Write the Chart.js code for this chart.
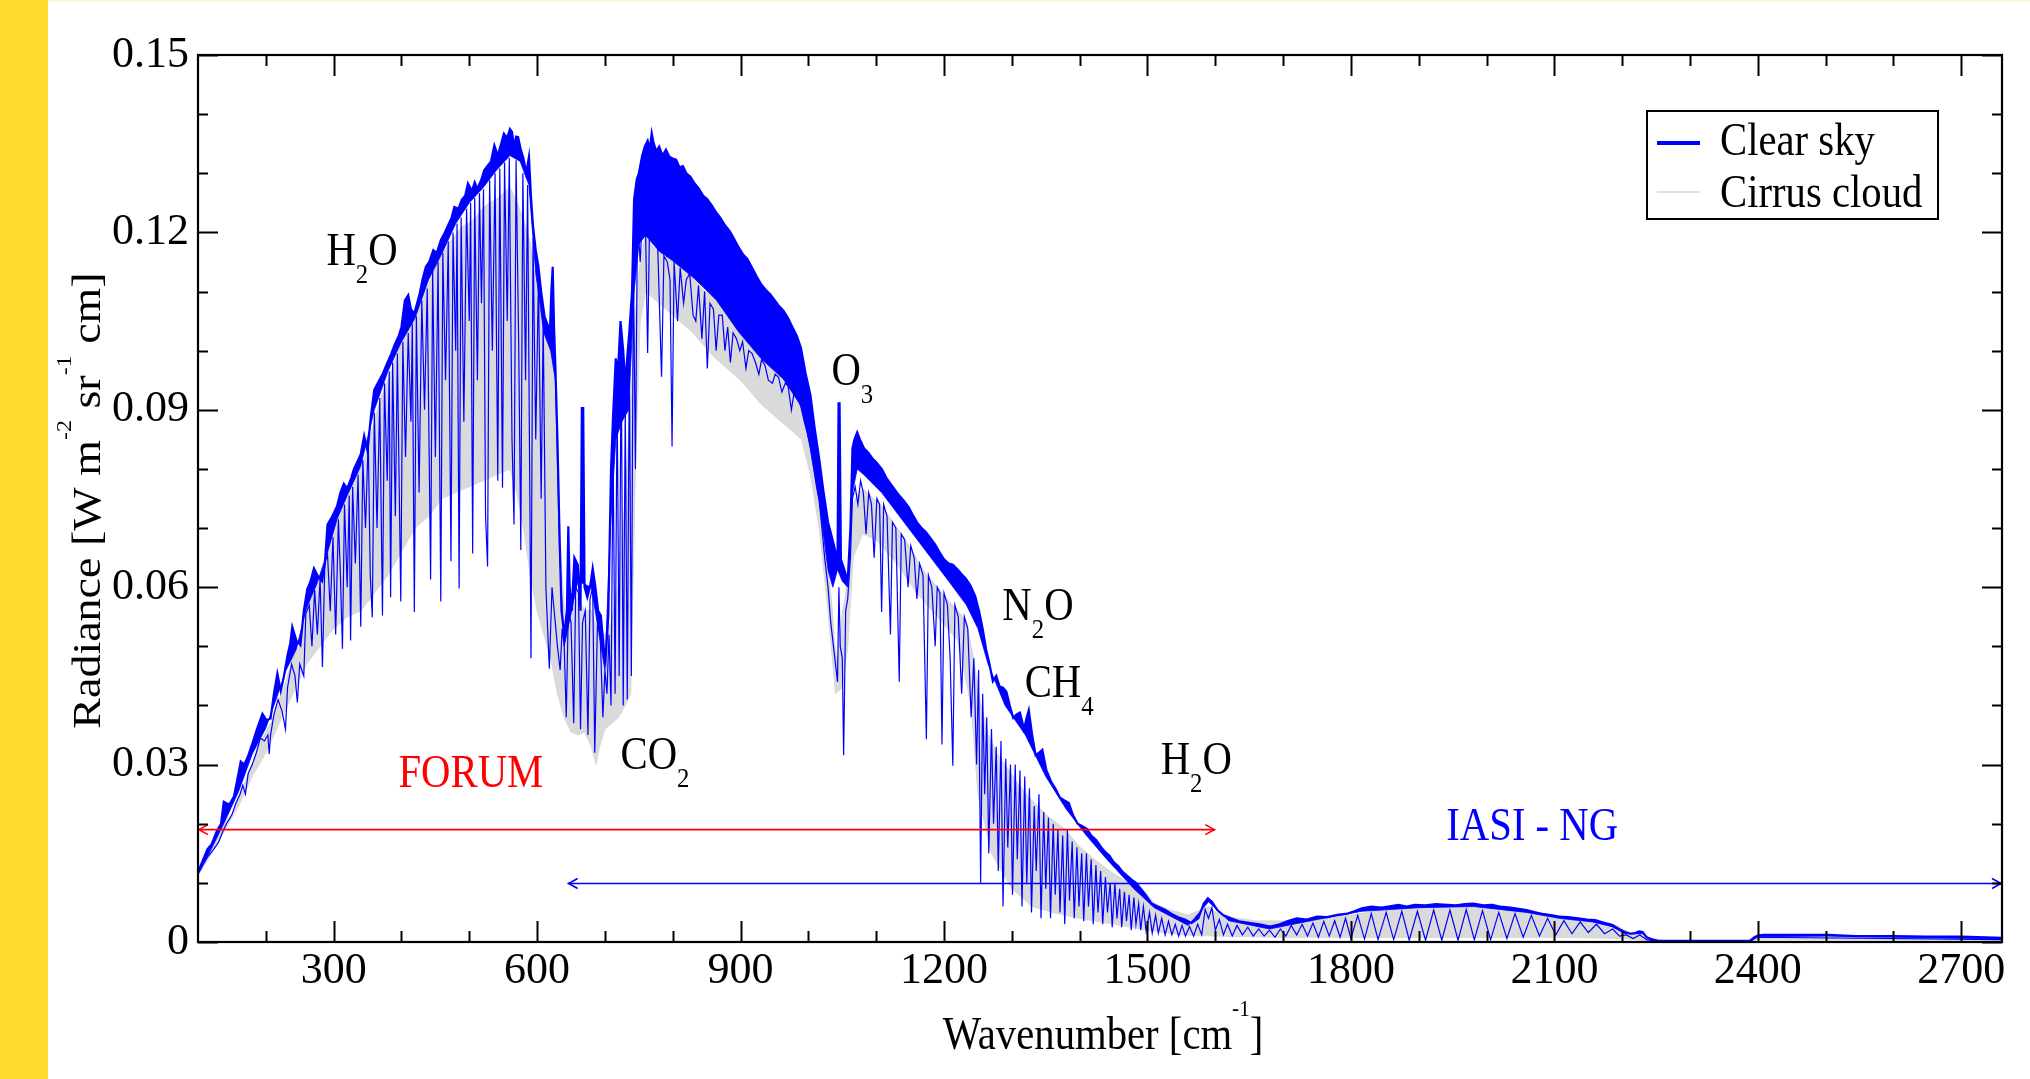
<!DOCTYPE html>
<html><head><meta charset="utf-8">
<script src="https://cdn.jsdelivr.net/npm/chart.js@4.4.1/dist/chart.umd.min.js"></script>
<style>
html,body{margin:0;padding:0;background:#fff;}
#wrap{position:relative;width:2030px;height:1079px;overflow:hidden;background:#fff;}
#strip{position:absolute;left:0;top:0;width:48px;height:1079px;background:#FFDB2F;}
#topline{position:absolute;left:48px;top:0;right:0;height:2px;background:#FFF7D8;}
canvas{position:absolute;left:0;top:0;}
</style></head><body>
<div id="wrap"><div id="strip"></div><div id="topline"></div><canvas id="c" width="2030" height="1079"></canvas></div>
<script>
// ---------------- DATA (wavenumber cm^-1, radiance W m^-2 sr^-1 cm) ----------------
const xTickValues = [300, 600, 900, 1200, 1500, 1800, 2100, 2400, 2700];
const xTickLabels = ['300', '600', '900', '1200', '1500', '1800', '2100', '2400', '2700'];
const xMinorTickValues = [200, 400, 500, 700, 800, 1000, 1100, 1300, 1400, 1600, 1700, 1900, 2000, 2200, 2300, 2500, 2600];
const yTickValues = [0, 0.03, 0.06, 0.09, 0.12, 0.15];
const yTickLabels = ['0', '0.03', '0.06', '0.09', '0.12', '0.15'];
const yMinorTickValues = [0.01, 0.02, 0.04, 0.05, 0.07, 0.08, 0.10, 0.11, 0.13, 0.14];

const seriesNames = ['Clear sky', 'Cirrus cloud'];

// Clear sky: upper envelope of the spectrum
const clearSkyTop = [[100,0.0118],[106,0.0135],[114,0.0157],[120,0.0165],[128,0.0188],[134,0.0200],[138,0.0237],[146,0.0232],[153,0.0246],[158,0.0275],[163,0.0305],[168,0.0300],[173,0.0312],[180,0.0335],[187,0.0360],[195,0.0386],[201,0.0375],[207,0.0378],[212,0.0420],[217,0.0454],[222,0.0425],[226,0.0445],[232,0.0485],[236,0.0505],[239,0.0533],[245,0.0510],[251,0.0502],[256,0.0560],[261,0.0596],[266,0.0610],[271,0.0632],[277,0.0618],[283,0.0610],[287,0.0640],[291,0.0706],[298,0.0720],[305,0.0737],[310,0.0760],[315,0.0775],[320,0.0767],[326,0.0785],[330,0.0800],[335,0.0812],[340,0.0825],[345,0.0856],[350,0.0830],[355,0.0890],[360,0.0934],[365,0.0945],[372,0.0960],[379,0.0979],[385,0.0995],[390,0.1010],[396,0.1025],[400,0.1040],[405,0.1085],[410,0.1094],[414,0.1070],[419,0.1063],[423,0.1080],[427,0.1097],[431,0.1120],[436,0.1142],[441,0.1150],[447,0.1170],[452,0.1165],[458,0.1187],[464,0.1200],[470,0.1215],[474,0.1225],[478,0.1243],[484,0.1240],[489,0.1255],[494,0.1262],[498,0.1283],[504,0.1270],[508,0.1285],[512,0.1274],[518,0.1290],[522,0.1305],[526,0.1311],[532,0.1320],[537,0.1347],[542,0.1330],[547,0.1350],[551,0.1367],[556,0.1360],[560,0.1375],[563,0.1370],[566,0.1345],[569,0.1362],[572,0.1361],[576,0.1340],[580,0.1325],[584,0.1300],[588,0.1328],[591,0.1260],[594,0.1210],[598,0.1170],[602,0.1142],[606,0.1100],[611,0.1058],[615,0.1045],[619,0.1035],[621,0.1100],[623,0.1142],[625,0.1040],[627,0.0973],[630,0.0850],[633,0.0692],[636,0.0560],[640,0.0520],[644,0.0560],[646,0.0703],[648,0.0600],[651,0.0560],[655,0.0650],[660,0.0638],[664,0.0560],[666,0.0903],[668,0.0903],[670,0.0600],[674,0.0583],[678,0.0600],[682,0.0632],[686,0.0600],[690,0.0560],[694,0.0552],[698,0.0500],[701,0.0478],[705,0.0552],[709,0.0800],[712,0.0889],[716,0.0987],[719,0.0960],[723,0.1050],[727,0.1000],[730,0.0943],[733,0.0990],[736,0.1032],[740,0.1100],[743,0.1256],[747,0.1290],[750,0.1300],[755,0.1330],[759,0.1346],[763,0.1355],[766,0.1340],[769,0.1368],[772,0.1350],[776,0.1337],[780,0.1345],[785,0.1330],[790,0.1340],[795,0.1328],[800,0.1325],[805,0.1323],[810,0.1310],[815,0.1312],[820,0.1300],[826,0.1294],[832,0.1283],[838,0.1275],[845,0.1262],[851,0.1256],[858,0.1245],[864,0.1234],[870,0.1225],[877,0.1212],[884,0.1202],[890,0.1190],[897,0.1175],[904,0.1162],[910,0.1155],[917,0.1140],[924,0.1125],[930,0.1113],[937,0.1103],[944,0.1095],[950,0.1086],[957,0.1075],[963,0.1068],[970,0.1055],[976,0.1041],[983,0.1025],[989,0.1005],[996,0.0961],[1003,0.0925],[1009,0.0871],[1016,0.0817],[1022,0.0764],[1029,0.0710],[1035,0.0683],[1040,0.0660],[1043,0.0647],[1044.5,0.0911],[1046,0.0911],[1048,0.0647],[1053,0.0630],[1058,0.0611],[1062,0.0700],[1065,0.0835],[1068,0.0850],[1072,0.0862],[1076,0.0850],[1082,0.0835],[1088,0.0828],[1095,0.0817],[1101,0.0810],[1108,0.0800],[1115,0.0785],[1121,0.0775],[1128,0.0764],[1134,0.0755],[1141,0.0746],[1148,0.0735],[1154,0.0722],[1160,0.0710],[1167,0.0700],[1174,0.0692],[1180,0.0683],[1187,0.0672],[1193,0.0660],[1200,0.0647],[1207,0.0640],[1213,0.0638],[1220,0.0630],[1226,0.0622],[1232,0.0615],[1239,0.0603],[1246,0.0585],[1252,0.0558],[1257,0.0530],[1262,0.0495],[1267,0.0470],[1272,0.0441],[1277,0.0450],[1282,0.0432],[1287,0.0430],[1292,0.0423],[1297,0.0400],[1302,0.0379],[1307,0.0385],[1312,0.0388],[1318,0.0360],[1322,0.0380],[1325,0.0392],[1330,0.0350],[1335,0.0316],[1340,0.0320],[1345,0.0325],[1351,0.0290],[1358,0.0271],[1364,0.0260],[1371,0.0244],[1377,0.0240],[1384,0.0235],[1390,0.0215],[1397,0.0200],[1404,0.0196],[1411,0.0191],[1417,0.0180],[1424,0.0173],[1432,0.0160],[1438,0.0152],[1444,0.0146],[1450,0.0135],[1457,0.0128],[1463,0.0119],[1470,0.0112],[1477,0.0105],[1483,0.0100],[1490,0.0090],[1497,0.0080],[1506,0.0065],[1515,0.0060],[1525,0.0055],[1535,0.0048],[1545,0.0042],[1555,0.0038],[1565,0.0032],[1575,0.0040],[1583,0.0065],[1589,0.0074],[1595,0.0068],[1603,0.0054],[1612,0.0045],[1623,0.0040],[1635,0.0035],[1652,0.0032],[1665,0.0030],[1681,0.0026],[1695,0.0030],[1708,0.0036],[1720,0.0040],[1735,0.0038],[1750,0.0043],[1765,0.0042],[1780,0.0046],[1795,0.0048],[1805,0.0052],[1816,0.0057],[1830,0.0060],[1845,0.0058],[1855,0.0060],[1870,0.0063],[1882,0.0060],[1894,0.0063],[1910,0.0062],[1925,0.0064],[1942,0.0063],[1955,0.0062],[1968,0.0064],[1981,0.0065],[1995,0.0062],[2008,0.0063],[2020,0.0060],[2035,0.0058],[2047,0.0056],[2059,0.0054],[2072,0.0050],[2085,0.0047],[2097,0.0045],[2107,0.0043],[2120,0.0042],[2135,0.0040],[2148,0.0038],[2160,0.0037],[2172,0.0033],[2185,0.0029],[2195,0.0022],[2204,0.0017],[2212,0.0014],[2219,0.0015],[2225,0.0018],[2230,0.0017],[2236,0.0008],[2243,0.0005],[2253,0.0002],[2300,0.0002],[2350,0.0002],[2388,0.0002],[2395,0.0008],[2400,0.0011],[2408,0.0012],[2450,0.0012],[2504,0.0012],[2543,0.0010],[2600,0.0010],[2650,0.0009],[2700,0.0009],[2760,0.0007]];

// Clear sky: lower edge of the dense (unresolved) line band under the envelope
const clearSkyBandBottom = [[100,0.0114],[120,0.0158],[140,0.0205],[160,0.0255],[180,0.0318],[200,0.0362],[215,0.0410],[230,0.0460],[245,0.0495],[260,0.0565],[275,0.0605],[290,0.0655],[305,0.0715],[320,0.0755],[340,0.0805],[360,0.0900],[380,0.0965],[400,0.1015],[420,0.1055],[440,0.1120],[460,0.1165],[480,0.1215],[500,0.1250],[520,0.1275],[540,0.1305],[560,0.1330],[575,0.1320],[588,0.1280],[598,0.1130],[610,0.1030],[620,0.1000],[627,0.0950],[633,0.0660],[640,0.0500],[660,0.0610],[680,0.0600],[700,0.0460],[708,0.0700],[716,0.0850],[725,0.0880],[735,0.0900],[743,0.1100],[750,0.1180],[760,0.1195],[780,0.1168],[800,0.1152],[832,0.1122],[864,0.1086],[897,0.1032],[930,0.0987],[963,0.0952],[989,0.0907],[1003,0.0835],[1016,0.0746],[1029,0.0629],[1036,0.0600],[1043,0.0630],[1050,0.0610],[1058,0.0600],[1065,0.0760],[1072,0.0800],[1082,0.0790],[1108,0.0760],[1141,0.0710],[1174,0.0660],[1207,0.0610],[1233,0.0570],[1250,0.0530],[1265,0.0470],[1290,0.0400],[1320,0.0350],[1350,0.0280],[1380,0.0225],[1410,0.0180],[1440,0.0140],[1480,0.0090],[1510,0.0058],[1560,0.0028],[1590,0.0068],[1620,0.0036],[1680,0.0022],[1750,0.0038],[1816,0.0052],[1900,0.0058],[1981,0.0060],[2059,0.0050],[2107,0.0040],[2156,0.0034],[2185,0.0026],[2204,0.0014],[2230,0.0014],[2243,0.0003],[2253,0.0001],[2388,0.0001],[2400,0.0009],[2504,0.0010],[2760,0.0005]];

// Clear sky: resolved absorption lines (line minima and maxima)
const clearSkyLines = [[100,0.0115],[108,0.0132],[115,0.0145],[122,0.0155],[130,0.0168],[136,0.0185],[142,0.0200],[150,0.0215],[156,0.0235],[162,0.0250],[166,0.0265],[170,0.0250],[174,0.0285],[180,0.0300],[186,0.0320],[192,0.0345],[198,0.0340],[203,0.0350],[205,0.0318],[207,0.0350],[212,0.0385],[218,0.0410],[224,0.0390],[229,0.0360],[232,0.0430],[238,0.0470],[243,0.0450],[246.5,0.0405],[250,0.0470],[256,0.0450],[259,0.0555],[264,0.0570],[268,0.0500],[272,0.0595],[276,0.0520],[280,0.0615],[283.5,0.0465],[287,0.0640],[291,0.0655],[295,0.0560],[299,0.0685],[303,0.0520],[307,0.0715],[310,0.0620],[313,0.0496],[316,0.0740],[320,0.0600],[323,0.0755],[325,0.0510],[328,0.0770],[332,0.0640],[336,0.0790],[340,0.0533],[343,0.0815],[347,0.0700],[351,0.0850],[354,0.0620],[357,0.0549],[360,0.0895],[364,0.0700],[368,0.0920],[372,0.0552],[375,0.0945],[379,0.0780],[382,0.0965],[384,0.0583],[387,0.0980],[391,0.0720],[394,0.0995],[399,0.0576],[402,0.1015],[406,0.0820],[410,0.1030],[414,0.0880],[416,0.1045],[419,0.0558],[422,0.1058],[426,0.0760],[430,0.1085],[434,0.0900],[438,0.1105],[443,0.0613],[446,0.1135],[450,0.0820],[454,0.1150],[458,0.0576],[461,0.1165],[465,0.0950],[469,0.1185],[473,0.0644],[476,0.1200],[480,0.1000],[482,0.1215],[485,0.0598],[488,0.1225],[492,0.0880],[496,0.1240],[500,0.1050],[502,0.1250],[505,0.0657],[508,0.1258],[512,0.0950],[515,0.1266],[518,0.1080],[521,0.1273],[524,0.0720],[527,0.0635],[530,0.1288],[534,0.1000],[538,0.1300],[542,0.0780],[545,0.1308],[549,0.0768],[552,0.1318],[556,0.1050],[559,0.1326],[563,0.0850],[566,0.0706],[569,0.1322],[573,0.1000],[576,0.0663],[579,0.1300],[583,0.0950],[586,0.1280],[591,0.0480],[594,0.1190],[598,0.0850],[602,0.1120],[606,0.0750],[609,0.1050],[613,0.0600],[618,0.0462],[622,0.0600],[626,0.0550],[630,0.0500],[634,0.0460],[637,0.0530],[640,0.0500],[643,0.0380],[646,0.0560],[650,0.0540],[654,0.0370],[657,0.0600],[661,0.0590],[664,0.0360],[667,0.0540],[671,0.0560],[675,0.0350],[678,0.0580],[682,0.0600],[685,0.0320],[689,0.0540],[693,0.0520],[697,0.0380],[700,0.0460],[703,0.0420],[706,0.0520],[709,0.0400],[712,0.0840],[715,0.0420],[718,0.0920],[721,0.0450],[724,0.1000],[727,0.0400],[730,0.0900],[733,0.0410],[736,0.0980],[739,0.0450],[742,0.1150],[745,0.0800],[748,0.1230],[752,0.1150],[756,0.1250],[760,0.1200],[763,0.0996],[766,0.1230],[770,0.1200],[774,0.1220],[778,0.1170],[783.5,0.0956],[787,0.1160],[792,0.1150],[796,0.1120],[799,0.0838],[802,0.1150],[807,0.1050],[811,0.1140],[816,0.1080],[820,0.1120],[825,0.1130],[830,0.1060],[834,0.1050],[838,0.1110],[843,0.1020],[847,0.1100],[851,0.0970],[855,0.1080],[860,0.1070],[864,0.1000],[868,0.1060],[873,0.1060],[877,0.1000],[881,0.1040],[885,0.0980],[889,0.1030],[894,0.1020],[899,0.1000],[903,0.1015],[908,0.0970],[912,0.1000],[917,0.0995],[922,0.0980],[927,0.0960],[931,0.0985],[936,0.0975],[941,0.0950],[947,0.0945],[951,0.0960],[956,0.0955],[961,0.0930],[966,0.0945],[970,0.0940],[975,0.0900],[979,0.0930],[984,0.0920],[989,0.0905],[994,0.0880],[999,0.0860],[1003,0.0835],[1008,0.0800],[1012,0.0770],[1016,0.0746],[1020,0.0700],[1024,0.0650],[1029,0.0600],[1033,0.0540],[1037,0.0500],[1040,0.0470],[1043,0.0440],[1045,0.0600],[1047,0.0500],[1050,0.0480],[1052,0.0316],[1055,0.0560],[1058,0.0580],[1062,0.0650],[1065,0.0750],[1069,0.0770],[1073,0.0740],[1077,0.0780],[1081,0.0760],[1085,0.0690],[1089,0.0760],[1093,0.0740],[1097,0.0650],[1101,0.0750],[1105,0.0740],[1108,0.0558],[1111,0.0740],[1116,0.0720],[1121,0.0520],[1124,0.0710],[1129,0.0700],[1134,0.0440],[1137,0.0690],[1142,0.0680],[1147,0.0600],[1151,0.0670],[1156,0.0650],[1160,0.0580],[1164,0.0640],[1169,0.0620],[1174,0.0343],[1177,0.0620],[1182,0.0600],[1187,0.0500],[1190,0.0600],[1194,0.0590],[1197,0.0334],[1200,0.0590],[1205,0.0570],[1209,0.0480],[1213,0.0298],[1216,0.0570],[1221,0.0550],[1226,0.0420],[1230,0.0550],[1235,0.0530],[1240,0.0380],[1244,0.0480],[1248,0.0300],[1251,0.0460],[1254,0.0100],[1257,0.0420],[1260,0.0250],[1263,0.0380],[1266,0.0150],[1270,0.0360],[1273,0.0200],[1277,0.0330],[1280,0.0120],[1284,0.0340],[1287,0.0060],[1291,0.0310],[1294,0.0160],[1298,0.0300],[1301,0.0080],[1305,0.0300],[1308,0.0140],[1312,0.0290],[1315,0.0060],[1319,0.0280],[1322,0.0100],[1326,0.0260],[1329,0.0050],[1333,0.0230],[1336,0.0120],[1340,0.0250],[1343,0.0040],[1347,0.0220],[1350,0.0090],[1354,0.0210],[1357,0.0040],[1361,0.0200],[1364,0.0080],[1368,0.0190],[1371,0.0050],[1375,0.0180],[1378,0.0030],[1382,0.0190],[1385,0.0070],[1389,0.0170],[1392,0.0040],[1396,0.0160],[1399,0.0060],[1403,0.0150],[1406,0.0035],[1410,0.0150],[1413,0.0060],[1417,0.0140],[1420,0.0030],[1424,0.0130],[1427,0.0050],[1431,0.0120],[1434,0.0030],[1438,0.0110],[1441,0.0050],[1445,0.0100],[1448,0.0025],[1452,0.0100],[1455,0.0040],[1459,0.0090],[1462,0.0025],[1466,0.0085],[1469,0.0035],[1473,0.0080],[1476,0.0020],[1480,0.0075],[1483,0.0030],[1487,0.0065],[1490,0.0020],[1494,0.0060],[1498,0.0018],[1503,0.0050],[1507,0.0015],[1512,0.0045],[1516,0.0015],[1521,0.0040],[1526,0.0012],[1531,0.0035],[1536,0.0012],[1541,0.0030],[1546,0.0010],[1551,0.0028],[1556,0.0010],[1562,0.0026],[1568,0.0010],[1574,0.0030],[1580,0.0012],[1585,0.0055],[1590,0.0040],[1595,0.0058],[1600,0.0020],[1606,0.0038],[1612,0.0012],[1618,0.0030],[1625,0.0010],[1632,0.0028],[1640,0.0012],[1648,0.0025],[1656,0.0010],[1664,0.0022],[1672,0.0010],[1680,0.0020],[1688,0.0008],[1696,0.0022],[1704,0.0010],[1712,0.0028],[1720,0.0012],[1728,0.0030],[1736,0.0010],[1744,0.0032],[1752,0.0008],[1760,0.0035],[1768,0.0010],[1776,0.0036],[1784,0.0008],[1792,0.0040],[1800,0.0006],[1810,0.0045],[1820,0.0005],[1830,0.0048],[1840,0.0004],[1852,0.0050],[1863,0.0004],[1875,0.0052],[1886,0.0003],[1898,0.0052],[1910,0.0003],[1922,0.0054],[1934,0.0003],[1946,0.0054],[1958,0.0003],[1970,0.0055],[1982,0.0004],[1994,0.0053],[2006,0.0004],[2018,0.0050],[2030,0.0006],[2042,0.0048],[2054,0.0008],[2066,0.0045],[2078,0.0010],[2090,0.0040],[2102,0.0012],[2114,0.0036],[2126,0.0014],[2138,0.0034],[2150,0.0016],[2162,0.0030],[2174,0.0014],[2186,0.0022],[2196,0.0010],[2206,0.0012],[2216,0.0006],[2226,0.0012],[2236,0.0004],[2245,0.0002],[2253,0.0000],[2388,0.0000],[2395,0.0006],[2400,0.0008],[2760,0.0004]];

// Cirrus cloud: upper and lower edges of the (unresolved) line band
const cirrusTop = [[100,0.0120],[110,0.0140],[120,0.0160],[130,0.0180],[140,0.0200],[150,0.0215],[160,0.0245],[170,0.0270],[180,0.0300],[190,0.0330],[200,0.0355],[210,0.0375],[220,0.0410],[230,0.0440],[240,0.0480],[250,0.0500],[260,0.0560],[270,0.0600],[280,0.0620],[290,0.0660],[300,0.0700],[310,0.0740],[320,0.0760],[330,0.0780],[340,0.0800],[350,0.0830],[360,0.0880],[370,0.0920],[380,0.0950],[390,0.0980],[400,0.1010],[410,0.1040],[420,0.1050],[430,0.1080],[440,0.1110],[450,0.1140],[460,0.1160],[470,0.1180],[480,0.1195],[490,0.1210],[500,0.1215],[510,0.1225],[520,0.1240],[530,0.1250],[540,0.1255],[550,0.1265],[560,0.1275],[570,0.1250],[580,0.1220],[590,0.1180],[600,0.1090],[610,0.1040],[620,0.1000],[625,0.0970],[630,0.0800],[635,0.0650],[640,0.0560],[650,0.0560],[660,0.0580],[670,0.0560],[680,0.0560],[690,0.0520],[700,0.0520],[710,0.0540],[720,0.0600],[730,0.0750],[740,0.0950],[745,0.1050],[750,0.1130],[755,0.1170],[760,0.1193],[765,0.1185],[770,0.1175],[780,0.1165],[790,0.1158],[800,0.1150],[810,0.1142],[820,0.1135],[832,0.1122],[845,0.1102],[864,0.1086],[880,0.1060],[897,0.1032],[915,0.1005],[930,0.0987],[945,0.0970],[963,0.0952],[975,0.0935],[989,0.0907],[996,0.0870],[1003,0.0835],[1010,0.0790],[1016,0.0746],[1022,0.0690],[1029,0.0629],[1035,0.0560],[1039,0.0495],[1043,0.0470],[1047,0.0520],[1051,0.0560],[1055,0.0585],[1060,0.0650],[1064,0.0710],[1068,0.0746],[1075,0.0760],[1082,0.0764],[1095,0.0750],[1108,0.0737],[1124,0.0710],[1141,0.0683],[1158,0.0650],[1174,0.0620],[1190,0.0600],[1207,0.0576],[1220,0.0560],[1233,0.0540],[1243,0.0480],[1253,0.0405],[1265,0.0350],[1279,0.0316],[1295,0.0290],[1310,0.0265],[1325,0.0244],[1350,0.0215],[1378,0.0190],[1400,0.0160],[1424,0.0137],[1450,0.0115],[1470,0.0100],[1490,0.0092],[1510,0.0065],[1530,0.0055],[1560,0.0045],[1590,0.0060],[1600,0.0050],[1630,0.0040],[1660,0.0035],[1700,0.0035],[1750,0.0040],[1800,0.0045],[1850,0.0055],[1900,0.0058],[1950,0.0060],[2000,0.0058],[2050,0.0052],[2100,0.0045],[2150,0.0038],[2190,0.0028],[2210,0.0016],[2230,0.0012],[2245,0.0004],[2260,0.0002],[2390,0.0002],[2400,0.0009],[2500,0.0009],[2600,0.0008],[2760,0.0007]];

const cirrusBottom = [[100,0.0112],[120,0.0150],[140,0.0190],[160,0.0230],[180,0.0280],[200,0.0320],[220,0.0370],[240,0.0420],[260,0.0470],[280,0.0500],[300,0.0530],[320,0.0550],[340,0.0560],[360,0.0590],[380,0.0620],[400,0.0660],[420,0.0700],[440,0.0720],[460,0.0750],[480,0.0760],[500,0.0770],[520,0.0780],[540,0.0790],[560,0.0800],[570,0.0760],[580,0.0700],[590,0.0620],[600,0.0560],[610,0.0520],[620,0.0480],[630,0.0420],[640,0.0380],[650,0.0355],[660,0.0350],[670,0.0355],[680,0.0330],[687,0.0300],[692,0.0330],[700,0.0360],[710,0.0370],[720,0.0380],[730,0.0400],[738,0.0420],[745,0.0800],[752,0.1050],[760,0.1100],[780,0.1080],[800,0.1060],[830,0.1030],[860,0.0990],[900,0.0950],[930,0.0910],[960,0.0880],[990,0.0850],[1003,0.0790],[1016,0.0700],[1029,0.0560],[1040,0.0420],[1050,0.0430],[1058,0.0500],[1066,0.0650],[1080,0.0690],[1100,0.0680],[1130,0.0640],[1160,0.0590],[1190,0.0550],[1220,0.0510],[1240,0.0400],[1250,0.0250],[1270,0.0150],[1300,0.0090],[1330,0.0060],[1360,0.0050],[1400,0.0040],[1450,0.0030],[1500,0.0020],[1550,0.0012],[1600,0.0010],[1700,0.0008],[1800,0.0008],[1900,0.0008],[2000,0.0008],[2100,0.0008],[2200,0.0006],[2250,0.0001],[2390,0.0001],[2400,0.0004],[2760,0.0003]];

// Instrument spectral coverage (cm^-1) and the radiance level of each arrow
const forumRange = [100, 1600];
const forumLevel = 0.019;
const iasiRange = [645, 2760];
const iasiLevel = 0.0099;

// ---------------- STYLE / LAYOUT ----------------
const FONT = '"Liberation Serif", "Times New Roman", serif';
const BLUE = '#0000ff', RED = '#ff0000', GRAY = '#d6d6d6', GRAY_FILL = '#dadada';
const SX = 0.885;          // horizontal condensation of the lettering
const MAIN = 46, SUB = 28, SUP = 24;

// molecule labels placed in data coordinates (wavenumber, radiance at baseline)
const molLabels = [
  {parts:[['H'],['2','sub'],['O']], x:289.4, y:0.1145},
  {parts:[['CO'],['2','sub']], x:723, y:0.0293},
  {parts:[['O'],['3','sub']], x:1034, y:0.0942},
  {parts:[['N'],['2','sub'],['O']], x:1286, y:0.0545},
  {parts:[['CH'],['4','sub']], x:1319, y:0.0414},
  {parts:[['H'],['2','sub'],['O']], x:1519.5, y:0.0284},
  {parts:[['FORUM']], x:395.6, y:0.0262, color:RED},
  {parts:[['IASI - NG']], x:1940.6, y:0.01725, color:BLUE}
];

const toXY = arr => arr.map(p => ({x: p[0], y: p[1]}));

function richWidth(ctx, parts, size) {
  let w = 0;
  for (const p of parts) {
    const s = p[1] === 'sub' ? SUB : p[1] === 'sup' ? SUP : size;
    ctx.font = s + 'px ' + FONT;
    w += ctx.measureText(p[0]).width;
  }
  return w;
}
function drawRich(ctx, parts, size, color) {
  ctx.fillStyle = color;
  ctx.textAlign = 'left';
  ctx.textBaseline = 'alphabetic';
  let cx = 0;
  for (const p of parts) {
    const s = p[1] === 'sub' ? SUB : p[1] === 'sup' ? SUP : size;
    ctx.font = s + 'px ' + FONT;
    const dy = p[1] === 'sub' ? 18 : p[1] === 'sup' ? -33 : 0;
    ctx.fillText(p[0], cx, dy);
    cx += ctx.measureText(p[0]).width;
  }
}

const decorPlugin = {
  id: 'decor',
  afterDatasetsDraw(chart) {
    const {ctx, chartArea: a, scales: {x, y}} = chart;
    const heads = [[forumRange, forumLevel, RED], [iasiRange, iasiLevel, BLUE]];
    ctx.save();
    ctx.lineWidth = 1.6;
    for (const [rng, lvl, col] of heads) {
      const py = y.getPixelForValue(lvl);
      const x0 = x.getPixelForValue(rng[0]), x1 = x.getPixelForValue(rng[1]);
      ctx.strokeStyle = col;
      ctx.beginPath();
      ctx.moveTo(x0 + 10, py - 5); ctx.lineTo(x0 + 1, py); ctx.lineTo(x0 + 10, py + 5);
      ctx.moveTo(x1 - 10, py - 5); ctx.lineTo(x1 - 1, py); ctx.lineTo(x1 - 10, py + 5);
      ctx.stroke();
    }
    ctx.restore();
    for (const L of molLabels) {
      ctx.save();
      ctx.translate(x.getPixelForValue(L.x), y.getPixelForValue(L.y));
      ctx.scale(SX, 1);
      drawRich(ctx, L.parts, MAIN, L.color || '#000');
      ctx.restore();
    }
    const lx = 1647, ly = 111, lw = 291, lh = 108;
    ctx.save();
    ctx.fillStyle = '#fff';
    ctx.fillRect(lx, ly, lw, lh);
    ctx.strokeStyle = '#000'; ctx.lineWidth = 2;
    ctx.strokeRect(lx, ly, lw, lh);
    const ds = chart.data.datasets;
    ctx.lineWidth = 4; ctx.strokeStyle = ds[0].borderColor;
    ctx.beginPath(); ctx.moveTo(lx + 10, ly + 32); ctx.lineTo(lx + 53, ly + 32); ctx.stroke();
    ctx.lineWidth = 1.5; ctx.strokeStyle = GRAY;
    ctx.beginPath(); ctx.moveTo(lx + 10, ly + 81); ctx.lineTo(lx + 53, ly + 81); ctx.stroke();
    ctx.translate(lx + 73, ly + 44);
    ctx.scale(SX, 1);
    drawRich(ctx, [[seriesNames[0]]], MAIN, '#000');
    ctx.translate(0, 52);
    drawRich(ctx, [[seriesNames[1]]], MAIN, '#000');
    ctx.restore();
    ctx.save();
    const xt = [['Wavenumber [cm'], ['-1', 'sup'], [']']];
    const xw = richWidth(ctx, xt, MAIN) * SX;
    ctx.translate((a.left + a.right) / 2 + 3 - xw / 2, 1049);
    ctx.scale(SX, 1);
    drawRich(ctx, xt, MAIN, '#000');
    ctx.restore();
    ctx.save();
    const yt = [['Radiance [W m'], ['-2', 'sup'], [' sr'], ['-1', 'sup'], [' cm]']];
    const yw = richWidth(ctx, yt, MAIN);
    ctx.translate(100, (a.top + a.bottom) / 2 + 2 + yw / 2);
    ctx.rotate(-Math.PI / 2);
    ctx.scale(1, SX);
    drawRich(ctx, yt, MAIN, '#000');
    ctx.restore();
  },
  afterDraw(chart) {
    const {ctx, chartArea: a, scales: {x, y}} = chart;
    ctx.save();
    ctx.strokeStyle = '#000';
    ctx.lineWidth = 2;
    ctx.beginPath();
    const xt = (v, len) => {
      const px = Math.round(x.getPixelForValue(v)) + 0.5;
      ctx.moveTo(px, a.bottom); ctx.lineTo(px, a.bottom - len);
      ctx.moveTo(px, a.top); ctx.lineTo(px, a.top + len);
    };
    const yt = (v, len) => {
      const py = Math.round(y.getPixelForValue(v)) + 0.5;
      ctx.moveTo(a.left, py); ctx.lineTo(a.left + len, py);
      ctx.moveTo(a.right, py); ctx.lineTo(a.right - len, py);
    };
    xTickValues.forEach(v => xt(v, 21));
    xMinorTickValues.forEach(v => xt(v, 11));
    yTickValues.forEach(v => yt(v, 20));
    yMinorTickValues.forEach(v => yt(v, 10));
    ctx.stroke();
    ctx.lineWidth = 2.2;
    ctx.strokeRect(a.left, a.top, a.right - a.left, a.bottom - a.top);
    ctx.restore();
  }
};

const chart = new Chart(document.getElementById('c'), {
  type: 'line',
  data: {
    datasets: [
      {label: seriesNames[0], data: toXY(clearSkyLines), borderColor: BLUE, borderWidth: 1.2, fill: false, order: 1},
      {label: seriesNames[0] + ' envelope', data: toXY(clearSkyTop), borderColor: BLUE, borderWidth: 2.2, backgroundColor: BLUE, fill: 2, order: 2},
      {label: seriesNames[0] + ' band', data: toXY(clearSkyBandBottom), borderColor: BLUE, borderWidth: 0.8, fill: false, order: 3},
      {label: seriesNames[1], data: toXY(cirrusTop), borderColor: GRAY, borderWidth: 1.5, backgroundColor: GRAY_FILL, fill: 4, order: 4},
      {label: seriesNames[1] + ' band', data: toXY(cirrusBottom), borderColor: GRAY, borderWidth: 1, fill: false, order: 5},
      {label: 'FORUM', data: forumRange.map(v => ({x: v, y: forumLevel})), borderColor: RED, borderWidth: 1.6, fill: false, order: 0},
      {label: 'IASI - NG', data: iasiRange.map(v => ({x: v, y: iasiLevel})), borderColor: BLUE, borderWidth: 1.6, fill: false, order: 0}
    ]
  },
  options: {
    responsive: false,
    animation: false,
    devicePixelRatio: 1,
    events: [],
    normalized: true,
    layout: {padding: {left: 0, right: 28, top: 55, bottom: 0}},
    elements: {point: {radius: 0}, line: {tension: 0, borderJoinStyle: 'miter'}},
    plugins: {legend: {display: false}, tooltip: {enabled: false}, title: {display: false}},
    scales: {
      x: {
        type: 'linear', min: 100, max: 2760, position: 'bottom',
        afterBuildTicks: s => { s.ticks = xTickValues.map(v => ({value: v})); },
        afterFit: s => { s.height = 137; },
        grid: {display: false, drawTicks: false},
        border: {display: false},
        ticks: {color: '#000', font: {family: FONT, size: 44}, padding: 3, maxRotation: 0, autoSkip: false,
                callback: v => { const i = xTickValues.indexOf(v); return i >= 0 ? xTickLabels[i] : ''; }}
      },
      y: {
        type: 'linear', min: 0, max: 0.15,
        afterBuildTicks: s => { s.ticks = yTickValues.map(v => ({value: v})); },
        afterFit: s => { s.width = 198; },
        grid: {display: false, drawTicks: false},
        border: {display: false},
        ticks: {color: '#000', font: {family: FONT, size: 44}, padding: 9, autoSkip: false,
                callback: v => { const i = yTickValues.indexOf(v); return i >= 0 ? yTickLabels[i] : ''; }}
      }
    }
  },
  plugins: [decorPlugin]
});
</script>
</body></html>
